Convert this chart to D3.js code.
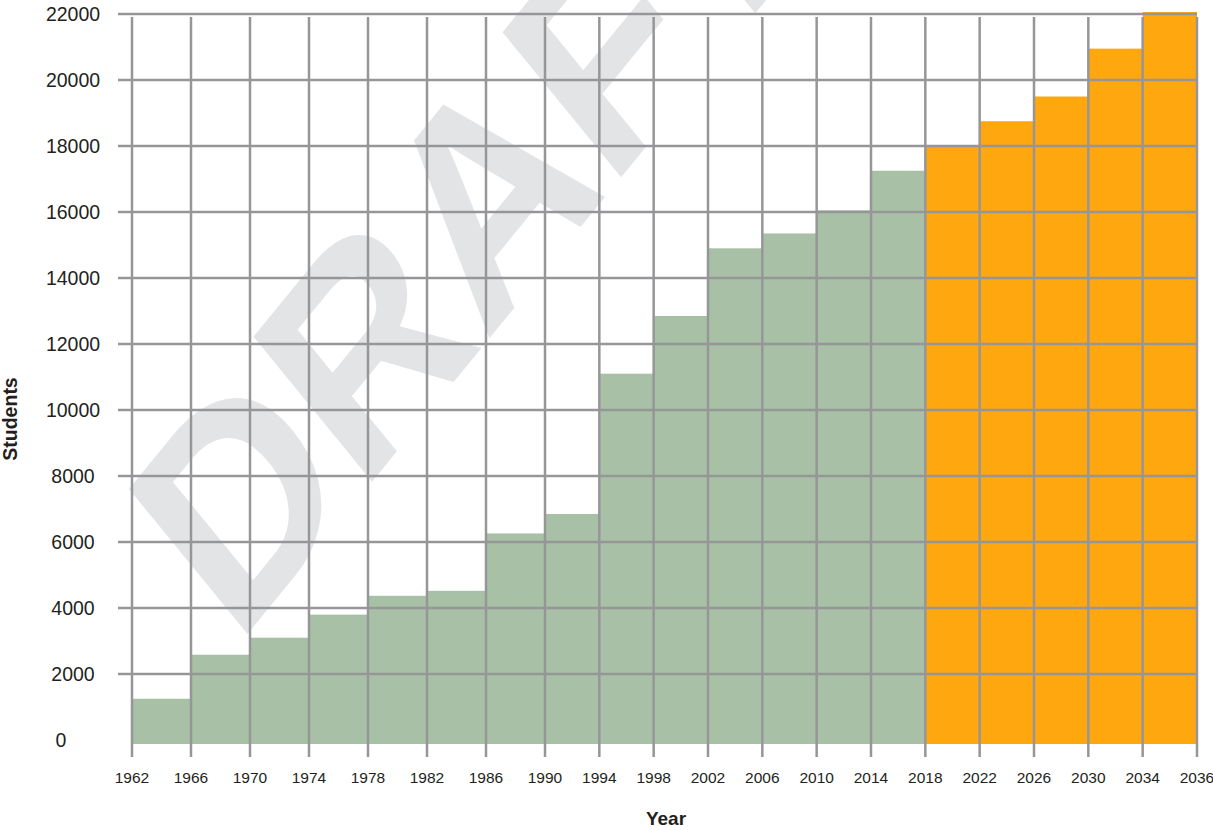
<!DOCTYPE html>
<html>
<head>
<meta charset="utf-8">
<script src="https://cdn.jsdelivr.net/npm/d3@7"></script>
<style>
  html, body { margin: 0; padding: 0; background: #fff; }
  svg { display: block; }
  text { font-family: "Liberation Sans", Arial, sans-serif; fill: #231f20; }
</style>
</head>
<body>
<svg id="chart" width="1213" height="830"></svg>
<script>
// ---- data ----
const tickLabels = ["1962","1966","1970","1974","1978","1982","1986","1990","1994","1998",
                    "2002","2006","2010","2014","2018","2022","2026","2030","2034","2036"];
const actualStudents = [1250, 2585, 3100, 3800, 4370, 4520, 6260, 6850, 11100, 12850, 14900, 15350, 16050, 17250];
const projectedStudents = [17980, 18750, 19500, 20950, 22060];
const yTickValues = [0, 2000, 4000, 6000, 8000, 10000, 12000, 14000, 16000, 18000, 20000, 22000];
const watermarkText = "DRAFT";
const xTitle = "Year";
const yTitle = "Students";

const colors = { actual: "#a7c0a6", projected: "#fea70e", grid: "#969699", watermark: "#e3e4e6" };

// ---- build bar records ----
const bars = [];
actualStudents.forEach((v, i) => bars.push({ i, value: v, kind: "actual" }));
projectedStudents.forEach((v, j) => bars.push({ i: actualStudents.length + j, value: v, kind: "projected" }));

const svg = d3.select("#chart");

// x: position by tick index (the source axis is slightly uneven)
const x = d3.scaleLinear().domain([0, 7, tickLabels.length - 1]).range([132, 545, 1197]);
const y = d3.scaleLinear().domain([0, 22000]).range([740, 14]);

// watermark
svg.append("text")
  .attr("transform", "translate(236,648) scale(0.9,1.1) rotate(-45)")
  .attr("font-size", 271)
  .attr("font-weight", "bold")
  .style("fill", colors.watermark)
  .text(watermarkText);

// bars (base sits a few px under the zero line, as in the source)
svg.append("g").selectAll("rect").data(bars).join("rect")
  .attr("x", d => x(d.i))
  .attr("width", d => x(d.i + 1) - x(d.i))
  .attr("y", d => y(d.value))
  .attr("height", d => y(0) - y(d.value) + 4)
  .attr("fill", d => colors[d.kind]);

// horizontal gridlines (with left stubs) — skip 0
const grid = svg.append("g").attr("stroke", colors.grid).attr("stroke-width", 2.5);
grid.selectAll("line.h").data(yTickValues.filter(v => v > 0)).join("line")
  .attr("class", "h")
  .attr("x1", x(0) - 14).attr("x2", x(tickLabels.length - 1))
  .attr("y1", d => y(d)).attr("y2", d => y(d));

// vertical gridlines extending below as tick marks
grid.selectAll("line.v").data(tickLabels).join("line")
  .attr("class", "v")
  .attr("x1", (d, i) => x(i)).attr("x2", (d, i) => x(i))
  .attr("y1", y(22000) + 3).attr("y2", y(0) + 17);

// y tick labels
svg.append("g").selectAll("text").data(yTickValues).join("text")
  .attr("x", d => d === 0 ? 61 : 73)
  .attr("y", d => y(d))
  .attr("dy", "0.36em")
  .attr("text-anchor", "middle")
  .attr("font-size", 19.5)
  .text(d => String(d));

// x tick labels
svg.append("g").selectAll("text").data(tickLabels).join("text")
  .attr("x", (d, i) => x(i))
  .attr("y", 777)
  .attr("dy", "0.36em")
  .attr("text-anchor", "middle")
  .attr("font-size", 15.5)
  .text(d => d);

// axis titles
svg.append("text")
  .attr("x", 666).attr("y", 818).attr("dy", "0.36em")
  .attr("text-anchor", "middle")
  .attr("font-size", 19).attr("font-weight", "bold")
  .text(xTitle);

svg.append("text")
  .attr("transform", "translate(10,419) rotate(-90)")
  .attr("dy", "0.36em")
  .attr("text-anchor", "middle")
  .attr("font-size", 19.5).attr("font-weight", "bold")
  .text(yTitle);
</script>
</body>
</html>
